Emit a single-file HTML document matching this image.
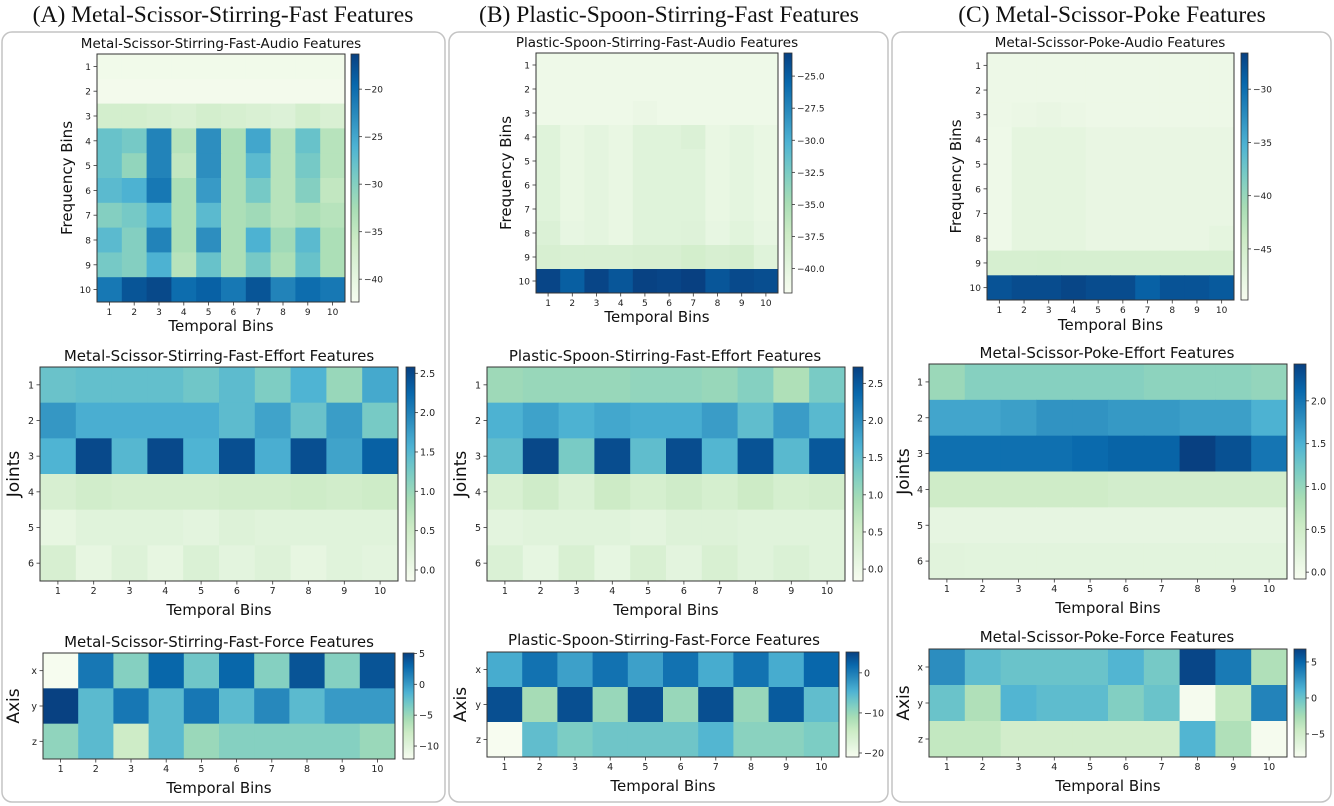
<!DOCTYPE html>
<html><head><meta charset="utf-8">
<style>
html,body{margin:0;padding:0;background:#fff;}
body{width:1334px;height:806px;overflow:hidden;position:relative;}
svg{position:absolute;left:0;top:0;}
</style></head>
<body>
<svg id="fig" width="1334" height="806" viewBox="0 0 1334 806" xmlns="http://www.w3.org/2000/svg">
  <rect x="2" y="32" width="443" height="770" rx="10" fill="none" stroke="#c4c4c4" stroke-width="1.5"/>
  <rect x="449" y="32" width="439" height="770" rx="10" fill="none" stroke="#c4c4c4" stroke-width="1.5"/>
  <rect x="892" y="32" width="439" height="770" rx="10" fill="none" stroke="#c4c4c4" stroke-width="1.5"/>
  <g font-family="'Liberation Serif',serif" font-size="23.5" fill="#111" text-anchor="middle">
    <text x="223" y="22">(A) Metal-Scissor-Stirring-Fast Features</text>
    <text x="669" y="22">(B) Plastic-Spoon-Stirring-Fast Features</text>
    <text x="1112" y="22">(C) Metal-Scissor-Poke Features</text>
  </g>
</svg>
<script>
// ---------- data ----------
const temporalBins = ["1","2","3","4","5","6","7","8","9","10"];
const freqBins = ["1","2","3","4","5","6","7","8","9","10"];
const jointLabels = ["1","2","3","4","5","6"];
const axisLabels = ["x","y","z"];

const aAudio = [
 [-41.5,-41.5,-41.5,-41.5,-41.5,-41.5,-41.5,-41.5,-41.5,-41.5],
 [-41.8,-41.8,-41.8,-41.8,-41.8,-41.8,-41.8,-41.8,-41.8,-41.8],
 [-37,-37,-37.5,-38,-37,-37.5,-38,-38.5,-37,-38],
 [-28,-29,-22,-34,-23,-33,-25,-34,-28,-34],
 [-28,-31,-22,-35,-23,-33,-27,-34,-29,-34],
 [-27,-26,-21,-33,-24,-33,-29,-34,-30,-35],
 [-30,-29,-26,-33,-27,-33,-32,-34,-33,-34],
 [-27,-30,-22,-33,-23,-33,-26,-32,-27,-33],
 [-29,-30,-26,-34,-28,-33,-29,-33,-28,-33],
 [-21,-18,-17,-20,-19,-21,-18,-22,-20,-21]];
const aAudioTicks = [-20,-25,-30,-35,-40];

const aEffort = [
 [1.35,1.4,1.4,1.4,1.3,1.45,1.2,1.55,1.0,1.65],
 [1.8,1.6,1.6,1.6,1.6,1.45,1.7,1.35,1.75,1.25],
 [1.55,2.5,1.5,2.5,1.55,2.45,1.6,2.45,1.7,2.3],
 [0.35,0.45,0.4,0.4,0.4,0.45,0.45,0.5,0.45,0.5],
 [0.1,0.2,0.2,0.2,0.15,0.25,0.2,0.2,0.2,0.2],
 [0.35,0.1,0.25,0.1,0.3,0.15,0.25,0.1,0.2,0.15]];
const aEffortTicks = [2.5,2.0,1.5,1.0,0.5,0.0];

const aForce = [
 [-12,2,-4,3,-3,3,-4,4,-4,4],
 [5,-2,2,-2,2,-2,1,-2,0,0],
 [-4.5,-2,-8,-2,-5,-4,-4,-4,-4,-5]];
const aForceTicks = [5,0,-5,-10];

const bAudio = [
 [-41,-41,-41,-41,-41,-41,-41,-41,-41,-41],
 [-41,-41,-41,-41,-41,-41,-41,-41,-41,-41],
 [-41,-41,-41,-41,-40.7,-41,-41,-41,-41,-41],
 [-39.5,-40.5,-40,-40.5,-39.5,-39.5,-39,-40.5,-40,-40.5],
 [-39.5,-40.5,-40,-40.5,-39.5,-39.5,-39.5,-40.5,-40,-40.5],
 [-39.5,-40.5,-40,-40.5,-39.5,-39.5,-39.5,-40.5,-40,-40.5],
 [-39.5,-40.5,-40,-40.5,-39.5,-39.5,-39.5,-40.5,-40,-40.5],
 [-39,-40.3,-40,-40.5,-39.5,-39.5,-39.3,-40.3,-39.7,-40.3],
 [-38.5,-38.7,-38.7,-38.7,-38.5,-38.5,-38,-38.5,-38.2,-39.5],
 [-23.5,-25,-23.5,-24.5,-23.3,-23.5,-23.2,-24.5,-23.8,-24]];
const bAudioTicks = [-25.0,-27.5,-30.0,-32.5,-35.0,-37.5,-40.0];

const bEffort = [
 [1.0,1.05,1.05,1.05,1.1,1.1,1.05,1.2,0.85,1.3],
 [1.65,1.8,1.65,1.75,1.7,1.7,1.85,1.5,1.85,1.55],
 [1.5,2.65,1.3,2.6,1.5,2.6,1.6,2.55,1.55,2.5],
 [0.35,0.5,0.3,0.55,0.4,0.5,0.4,0.55,0.4,0.45],
 [0.15,0.2,0.2,0.2,0.15,0.25,0.25,0.2,0.2,0.2],
 [0.3,0.1,0.35,0.1,0.35,0.15,0.35,0.2,0.3,0.2]];
const bEffortTicks = [2.5,2.0,1.5,1.0,0.5,0.0];

const bForce = [
 [-4,1,-3,1,-3,1,-4,1,-4,2],
 [4,-11,4,-10,4,-10,4,-10,3,-6],
 [-21,-6,-8,-7,-7,-7,-5,-9,-9,-8]];
const bForceTicks = [0,-10,-20];

const cAudio = [
 [-48.5,-48.5,-48.5,-48.5,-48.5,-48.5,-48.5,-48.5,-48.5,-48.5],
 [-48.5,-48.5,-48.5,-48.5,-48.5,-48.5,-48.5,-48.5,-48.5,-48.5],
 [-48.5,-48.3,-48,-48.3,-48.5,-48.5,-48.5,-48.5,-48.5,-48.5],
 [-48.7,-47.5,-47.5,-47.5,-48,-48,-48,-48,-48,-48],
 [-48.7,-47.5,-47.5,-47.5,-48,-48,-48,-48,-48,-48],
 [-48.7,-47.5,-47.5,-47.5,-48,-48,-48,-48,-48,-48],
 [-48.7,-47.5,-47.5,-47.5,-48,-48,-48,-48,-48,-48],
 [-48.7,-47.5,-47.5,-47.5,-48,-48,-48,-48,-48,-47.5],
 [-45.5,-45.5,-45.3,-45.5,-45.5,-45.5,-45.5,-45.5,-45.5,-45.5],
 [-28,-27.5,-27.5,-27,-27.5,-27.5,-29,-28,-28,-28.5]];
const cAudioTicks = [-30,-35,-40,-45];

const cEffort = [
 [0.95,1.1,1.1,1.1,1.1,1.1,1.05,1.05,1.05,1.0],
 [1.6,1.6,1.65,1.75,1.75,1.7,1.7,1.65,1.65,1.5],
 [2.05,2.05,2.05,2.05,2.1,2.15,2.15,2.45,2.3,2.0],
 [0.5,0.5,0.5,0.5,0.5,0.45,0.45,0.45,0.45,0.45],
 [0.15,0.15,0.15,0.15,0.15,0.15,0.15,0.15,0.15,0.15],
 [0.22,0.2,0.2,0.2,0.2,0.2,0.2,0.2,0.2,0.2]];
const cEffortTicks = [2.0,1.5,1.0,0.5,0.0];

const cForce = [
 [3,0.5,0,0,0,1,-0.5,6.5,4,-3],
 [0,-3,1,0.5,0.5,-1,0,-8,-4,3.5],
 [-4,-4,-5,-5,-5,-5,-5,1,-3,-8]];
const cForceTicks = [5,0,-5];

// ---------- colormap (GnBu) ----------
const gnbu = ["#f7fcf0","#e0f3db","#ccebc5","#a8ddb5","#7bccc4","#4eb3d3","#2b8cbe","#0868ac","#084081"];
function hex(h){return [parseInt(h.slice(1,3),16),parseInt(h.slice(3,5),16),parseInt(h.slice(5,7),16)];}
function cmap(t){
  t=Math.max(0,Math.min(1,t));
  const p=t*(gnbu.length-1), i=Math.min(Math.floor(p),gnbu.length-2), f=p-i;
  const a=hex(gnbu[i]), b=hex(gnbu[i+1]);
  return "rgb("+a.map((v,k)=>Math.round(v+(b[k]-v)*f)).join(",")+")";
}

const NS="http://www.w3.org/2000/svg";
const svg=document.getElementById("fig");
function mk(tag,attrs,parent){const e=document.createElementNS(NS,tag);for(const k in attrs)e.setAttribute(k,attrs[k]);(parent||svg).appendChild(e);return e;}

let gid=0;
function heatmap(c){
  const g=mk("g",{});
  
  
  const rows=c.data.length, cols=c.data[0].length;
  const cw=(c.x1-c.x0)/cols, ch=(c.y1-c.y0)/rows;
  const norm=v=>(v-c.vmin)/(c.vmax-c.vmin);
  const xPos=j=>c.x0+j*cw, yPos=i=>c.y0+i*ch;
  c.data.forEach((row,i)=>row.forEach((v,j)=>{
    const r=mk("rect",{x:xPos(j),y:yPos(i),width:cw+0.5,height:ch+0.5,fill:cmap(norm(v))},g);
    
    
  }));
  const fr=mk("rect",{x:c.x0,y:c.y0,width:c.x1-c.x0,height:c.y1-c.y0,fill:"none",stroke:"#333","stroke-width":1},g);
  
  
  c.xlabels.forEach((l,j)=>{
    const cx=xPos(j)+cw/2;
    mk("line",{x1:cx,x2:cx,y1:c.y1,y2:c.y1+3.5,stroke:"#333","stroke-width":0.8},g);
    const t=mk("text",{x:cx,y:c.y1+13,"font-size":c.tf,"text-anchor":"middle",fill:"#222"},g);
    t.textContent=l;
    
    
  });
  c.ylabels.forEach((l,i)=>{
    const cy=yPos(i)+ch/2;
    mk("line",{x1:c.x0-3.5,x2:c.x0,y1:cy,y2:cy,stroke:"#333","stroke-width":0.8},g);
    const t=mk("text",{x:c.x0-6,y:cy+3.5,"font-size":c.tf,"text-anchor":"end",fill:"#222"},g);
    t.textContent=l;
    
    
  });
  const tt=mk("text",{x:c.tx,y:c.ty,"font-size":c.titleSize,"text-anchor":"middle",fill:"#111"},g);
  tt.textContent=c.title;
  
  
  const xl=mk("text",{x:(c.x0+c.x1)/2,y:c.xly,"font-size":c.lf,"text-anchor":"middle",fill:"#111"},g);
  xl.textContent="Temporal Bins";
  
  
  const ym=(c.y0+c.y1)/2;
  const yl=mk("text",{x:c.ylx,y:ym,"font-size":c.ylf,"text-anchor":"middle",fill:"#111",transform:"rotate(-90 "+c.ylx+" "+ym+")"},g);
  yl.textContent=c.ylabel;
  
  
  const id="cg"+(gid++);
  const defs=mk("defs",{},g);
  const lg=mk("linearGradient",{id:id,x1:0,y1:1,x2:0,y2:0},defs);
  for(let k=0;k<=16;k++){mk("stop",{offset:k/16,"stop-color":cmap(k/16)},lg);}
  const cb=mk("rect",{x:c.cx0,y:c.y0,width:c.cx1-c.cx0,height:c.y1-c.y0,fill:"url(#"+id+")",stroke:"#333","stroke-width":0.8},g);
  
  
  const cy=v=>c.y1-norm(v)*(c.y1-c.y0);
  c.ticks.forEach(v=>{
    const y=cy(v);
    mk("line",{x1:c.cx1,x2:c.cx1+3,y1:y,y2:y,stroke:"#333","stroke-width":0.8},g);
    const t=mk("text",{x:c.cx1+5,y:y+3.5,"font-size":c.tf,fill:"#222"},g);
    t.textContent=(c.dec?v.toFixed(c.dec):String(v)).replace("-","\u2212");
    
    
  });
}

const F="'DejaVu Sans','Liberation Sans',sans-serif";
svg.setAttribute("font-family",F);

const common={tf:9.5,lf:15,titleSize:14,xlabels:temporalBins};
heatmap(Object.assign({},common,{name:"a-audio-heatmap",data:aAudio,ylabels:freqBins,x0:97,x1:345,y0:54,y1:302,cx0:351,cx1:359,vmin:-42.4,vmax:-16.3,ticks:aAudioTicks,title:"Metal-Scissor-Stirring-Fast-Audio Features",tx:221,ty:48,titleSize:13.5,xly:331,ylx:72,ylabel:"Frequency Bins",ylf:15,tf:9}));
heatmap(Object.assign({},common,{name:"a-effort-heatmap",data:aEffort,ylabels:jointLabels,x0:40,x1:398,y0:367,y1:581,cx0:406,cx1:415,vmin:-0.14,vmax:2.58,ticks:aEffortTicks,dec:1,title:"Metal-Scissor-Stirring-Fast-Effort Features",tx:219,ty:361,titleSize:15,xly:615,ylx:19,ylabel:"Joints",ylf:17}));
heatmap(Object.assign({},common,{name:"a-force-heatmap",data:aForce,ylabels:axisLabels,x0:43,x1:395,y0:653,y1:759,cx0:403,cx1:414,vmin:-12.1,vmax:5.07,ticks:aForceTicks,title:"Metal-Scissor-Stirring-Fast-Force Features",tx:219,ty:647,titleSize:15,xly:793,ylx:19,ylabel:"Axis",ylf:17}));

heatmap(Object.assign({},common,{name:"b-audio-heatmap",data:bAudio,ylabels:freqBins,x0:536,x1:778,y0:53,y1:293,cx0:784,cx1:792,vmin:-41.9,vmax:-23.2,ticks:bAudioTicks,dec:1,title:"Plastic-Spoon-Stirring-Fast-Audio Features",tx:657,ty:47,titleSize:13.5,xly:322,ylx:511,ylabel:"Frequency Bins",ylf:15,tf:9}));
heatmap(Object.assign({},common,{name:"b-effort-heatmap",data:bEffort,ylabels:jointLabels,x0:487,x1:845,y0:367,y1:581,cx0:853,cx1:863,vmin:-0.16,vmax:2.72,ticks:bEffortTicks,dec:1,title:"Plastic-Spoon-Stirring-Fast-Effort Features",tx:665,ty:361,titleSize:15,xly:615,ylx:466,ylabel:"Joints",ylf:17}));
heatmap(Object.assign({},common,{name:"b-force-heatmap",data:bForce,ylabels:axisLabels,x0:487,x1:839,y0:652,y1:757,cx0:846,cx1:859,vmin:-21,vmax:5.2,ticks:bForceTicks,title:"Plastic-Spoon-Stirring-Fast-Force Features",tx:664,ty:645,titleSize:15,xly:791,ylx:466,ylabel:"Axis",ylf:17}));

heatmap(Object.assign({},common,{name:"c-audio-heatmap",data:cAudio,ylabels:freqBins,x0:987,x1:1234,y0:53,y1:300,cx0:1241,cx1:1248,vmin:-49.8,vmax:-26.6,ticks:cAudioTicks,title:"Metal-Scissor-Poke-Audio Features",tx:1110,ty:47,titleSize:13.5,xly:330,ylx:961,ylabel:"Frequency Bins",ylf:15,tf:9}));
heatmap(Object.assign({},common,{name:"c-effort-heatmap",data:cEffort,ylabels:jointLabels,x0:929,x1:1287,y0:364,y1:579,cx0:1294,cx1:1306,vmin:-0.08,vmax:2.43,ticks:cEffortTicks,dec:1,title:"Metal-Scissor-Poke-Effort Features",tx:1107,ty:358,titleSize:15,xly:613,ylx:909,ylabel:"Joints",ylf:17}));
heatmap(Object.assign({},common,{name:"c-force-heatmap",data:cForce,ylabels:axisLabels,x0:929,x1:1287,y0:649,y1:757,cx0:1294,cx1:1306,vmin:-8.2,vmax:6.8,ticks:cForceTicks,title:"Metal-Scissor-Poke-Force Features",tx:1107,ty:642,titleSize:15,xly:791,ylx:909,ylabel:"Axis",ylf:17}));
</script>
</body></html>
